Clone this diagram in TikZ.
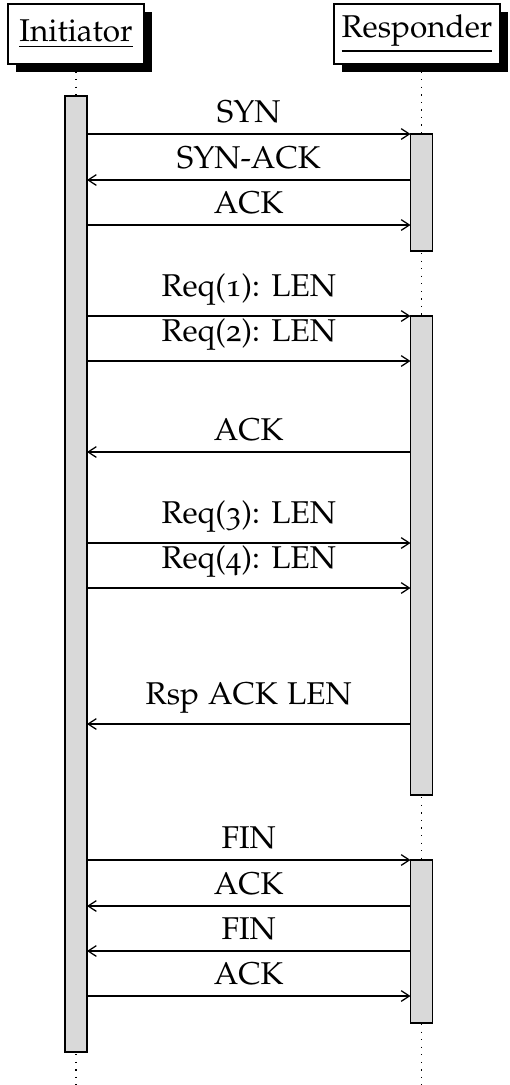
\documentclass[tikz,border=0pt]{standalone}
\usepackage[T1]{fontenc}
\usepackage[osf]{mathpazo}
\usetikzlibrary{shadows,backgrounds,arrows.meta}
\def\px{0.3175pt}
\definecolor{barfill}{RGB}{217,217,217}
\tikzset{
  inst/.style={rectangle, draw, line width=0.4pt, fill=white, inner sep=0pt, outer sep=0pt,
    drop shadow={opacity=1, fill=black, shadow xshift=8*\px, shadow yshift=-8*\px}},
  bar/.style={rectangle, draw, line width=0.4pt, fill=barfill, inner sep=0pt, outer sep=0pt,
    minimum width={22*\px}},
  life/.style={dotted, line width=0.4pt},
  msg/.style={line width=0.4pt, -{Straight Barb[length=2.6pt, width=3.4pt]}},
}
\begin{document}
\begin{tikzpicture}[x=\px, y=-\px, font=\fontsize{10}{12}\selectfont]
\useasboundingbox (0,0) rectangle (509,1085);
% headers
\node[inst, minimum width={136*\px}, minimum height={60*\px}] (init) at (76,34) {\underline{Initiator}};
\node[inst, minimum width={166*\px}, minimum height={60*\px}] (resp) at (417,34) {\underline{Responder}};
% lifeline ends
\coordinate (iend) at (76,1085);
\coordinate (rtop) at (421.5,64);
\coordinate (rend) at (421.5,1085);
\begin{scope}[on background layer]
  \draw[life] (init.south) -- (iend);
  \draw[life] (rtop) -- (rend);
\end{scope}
% activation bars
\node[bar, minimum height={956*\px}] (ib) at (76,574) {};
\node[bar, minimum height={117*\px}] (rb1) at (421.5,192.5) {};
\node[bar, minimum height={479*\px}] (rb2) at (421.5,555.5) {};
\node[bar, minimum height={163*\px}] (rb3) at (421.5,941.5) {};
% message levels
\coordinate (m1) at (0,134);
\coordinate (m2) at (0,180);
\coordinate (m3) at (0,225);
\coordinate (m4) at (0,316);
\coordinate (m5) at (0,361);
\coordinate (m6) at (0,452);
\coordinate (m7) at (0,543);
\coordinate (m8) at (0,588);
\coordinate (m9) at (0,724);
\coordinate (m10) at (0,860);
\coordinate (m11) at (0,906);
\coordinate (m12) at (0,951);
\coordinate (m13) at (0,996);
% messages
\draw[msg] (ib.east |- m1) -- node[above] {SYN} (rb1.west |- m1);
\draw[msg] (rb1.west |- m2) -- node[above] {SYN-ACK} (ib.east |- m2);
\draw[msg] (ib.east |- m3) -- node[above] {ACK} (rb1.west |- m3);
\draw[msg] (ib.east |- m4) -- node[above] {Req(1): LEN} (rb2.west |- m4);
\draw[msg] (ib.east |- m5) -- node[above] {Req(2): LEN} (rb2.west |- m5);
\draw[msg] (rb2.west |- m6) -- node[above] {ACK} (ib.east |- m6);
\draw[msg] (ib.east |- m7) -- node[above] {Req(3): LEN} (rb2.west |- m7);
\draw[msg] (ib.east |- m8) -- node[above] {Req(4): LEN} (rb2.west |- m8);
\draw[msg] (rb2.west |- m9) -- node[above] {Rsp ACK LEN} (ib.east |- m9);
\draw[msg] (ib.east |- m10) -- node[above] {FIN} (rb3.west |- m10);
\draw[msg] (rb3.west |- m11) -- node[above] {ACK} (ib.east |- m11);
\draw[msg] (rb3.west |- m12) -- node[above] {FIN} (ib.east |- m12);
\draw[msg] (ib.east |- m13) -- node[above] {ACK} (rb3.west |- m13);
\end{tikzpicture}
\end{document}
